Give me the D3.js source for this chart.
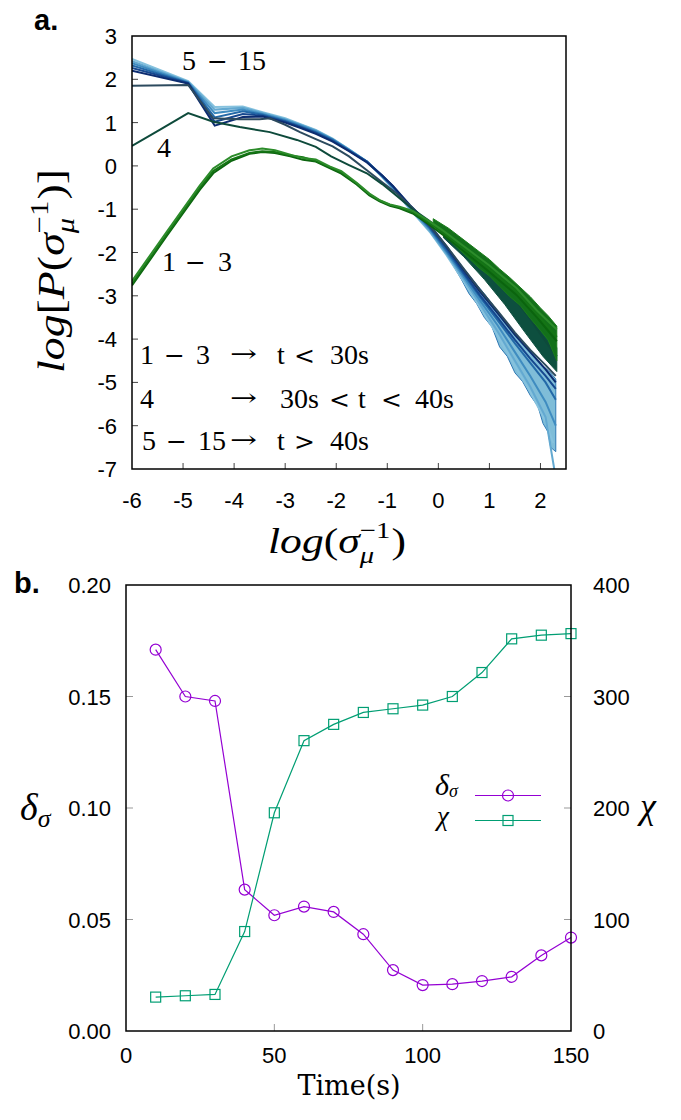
<!DOCTYPE html>
<html><head><meta charset="utf-8">
<script src="https://cdn.jsdelivr.net/npm/d3@7"></script>
<style>body{margin:0;background:#fff}svg{display:block}</style>
</head><body>
<svg id="c" width="681" height="1120"></svg>
<script>
// ---------- Panel a data ----------
const aXTicks = [-6,-5,-4,-3,-2,-1,0,1,2];
const aYTicks = [-7,-6,-5,-4,-3,-2,-1,0,1,2,3];
const green1 = [[-6,-2.66],[-5.32,-1.52],[-4.67,-0.45],[-4.41,-0.06],[-4.05,0.22],[-3.7,0.36],[-3.45,0.40],[-3.2,0.36],[-2.9,0.26],[-2.65,0.18],[-2.4,0.15],[-2.13,-0.01],[-1.9,-0.12],[-1.6,-0.39],[-1.35,-0.64],[-1.15,-0.79],[-0.95,-0.89],[-0.76,-0.94],[-0.5,-1.04],[-0.2,-1.26],[0.1,-1.5],[0.48,-1.84],[1.0,-2.3],[1.53,-2.82],[1.93,-3.34],[2.32,-3.78]];
const green2 = [[-6,-2.72],[-5.32,-1.58],[-4.67,-0.5],[-4.41,-0.12],[-4.05,0.15],[-3.7,0.3],[-3.45,0.34],[-3.2,0.32],[-2.9,0.24],[-2.65,0.2],[-2.4,0.11],[-2.13,-0.03],[-1.9,-0.15],[-1.6,-0.41],[-1.35,-0.66],[-1.15,-0.8],[-0.95,-0.9],[-0.76,-0.96],[-0.5,-1.07],[-0.2,-1.3],[0.1,-1.55],[0.48,-1.9],[1.0,-2.38],[1.53,-2.9],[1.93,-3.42],[2.32,-3.95]];
const green3 = [[-6,-2.76],[-5.32,-1.62],[-4.67,-0.55],[-4.41,-0.17],[-4.05,0.12],[-3.7,0.28],[-3.45,0.32],[-3.2,0.3],[-2.9,0.22],[-2.65,0.14],[-2.4,0.1],[-2.13,-0.05],[-1.9,-0.18],[-1.6,-0.43],[-1.35,-0.68],[-1.15,-0.82],[-0.95,-0.92],[-0.76,-0.98],[-0.5,-1.1],[-0.2,-1.34],[0.1,-1.6],[0.48,-1.95],[1.0,-2.45],[1.53,-2.98],[1.93,-3.5],[2.32,-4.05]];
const greenBand = [[-0.1,-1.22,-1.36],[0.2,-1.44,-1.7],[0.4,-1.62,-1.92],[0.6,-1.8,-2.14],[0.8,-1.98,-2.36],[1.0,-2.16,-2.54],[1.2,-2.38,-2.78],[1.4,-2.58,-3.02],[1.6,-2.8,-3.22],[1.8,-3.02,-3.52],[2.0,-3.28,-3.8],[2.15,-3.46,-4.02],[2.32,-3.7,-4.5]];
const teal4 = [[-6,0.46],[-5.45,0.84],[-4.9,1.22],[-4.41,1.02],[-3.89,0.9],[-3.3,0.78],[-2.77,0.6],[-2.4,0.44],[-2.1,0.22],[-1.75,0.02],[-1.4,-0.17],[-1.1,-0.42],[-0.89,-0.62],[-0.5,-1.0],[-0.2,-1.25],[0.16,-1.57],[0.5,-1.9],[0.81,-2.24],[1.16,-2.62],[1.46,-3.02],[1.75,-3.45],[2.02,-3.92],[2.32,-4.4]];
const tealBand = [[0.1,-1.5,-1.66],[0.5,-1.86,-2.1],[0.9,-2.28,-2.62],[1.3,-2.75,-3.2],[1.7,-3.3,-3.85],[2.05,-3.8,-4.4],[2.32,-4.2,-4.75]];
const blue5 = [[-6,1.85],[-4.9,1.87],[-4.41,1.1],[-3.9,1.08],[-3.5,1.08],[-3.3,1.1],[-3.0,0.95],[-2.71,0.78],[-2.4,0.62],[-2.07,0.45],[-1.75,0.22],[-1.4,-0.1],[-1.1,-0.38],[-0.8,-0.65],[-0.5,-0.98],[-0.17,-1.38],[0.16,-1.85],[0.48,-2.35],[0.81,-2.85],[1.16,-3.35],[1.5,-3.85],[1.8,-4.25],[2.1,-4.6],[2.3,-4.85]];
const blue6 = [[-6,2.2],[-4.9,1.9],[-4.38,0.93],[-3.83,1.13],[-3.44,1.14],[-3.0,1.0],[-2.71,0.88],[-2.4,0.74],[-2.07,0.56],[-1.75,0.34],[-1.4,0.08],[-1.1,-0.22],[-0.89,-0.46],[-0.56,-0.9],[-0.17,-1.36],[0.16,-1.86],[0.48,-2.38],[0.81,-2.9],[1.16,-3.4],[1.5,-3.9],[1.8,-4.3],[2.1,-4.7],[2.3,-5.0]];
const blue7 = [[-6,2.26],[-4.9,1.91],[-4.38,1.02],[-3.83,1.2],[-3.44,1.16],[-3.0,1.02],[-2.71,0.9],[-2.4,0.76],[-2.07,0.58],[-1.75,0.35],[-1.4,0.1],[-1.1,-0.22],[-0.89,-0.47],[-0.56,-0.92],[-0.17,-1.4],[0.16,-1.9],[0.48,-2.44],[0.81,-2.98],[1.16,-3.5],[1.5,-4.02],[1.8,-4.45],[2.1,-4.85],[2.3,-5.15]];
const blue8 = [[-6,2.32],[-4.9,1.92],[-4.38,1.12],[-3.83,1.26],[-3.44,1.18],[-3.0,1.04],[-2.71,0.92],[-2.4,0.78],[-2.07,0.6],[-1.75,0.36],[-1.4,0.1],[-1.1,-0.23],[-0.89,-0.48],[-0.56,-0.94],[-0.17,-1.43],[0.16,-1.95],[0.48,-2.48],[0.81,-3.02],[1.16,-3.56],[1.5,-4.1],[1.8,-4.55],[2.1,-5.0],[2.3,-5.4]];
const blue9 = [[-6,2.37],[-4.9,1.93],[-4.38,1.22],[-3.83,1.3],[-3.44,1.2],[-3.0,1.06],[-2.71,0.94],[-2.4,0.8],[-2.07,0.61],[-1.75,0.37],[-1.4,0.1],[-1.1,-0.24],[-0.89,-0.5],[-0.56,-0.96],[-0.17,-1.46],[0.16,-1.99],[0.48,-2.53],[0.81,-3.1],[1.16,-3.68],[1.5,-4.3],[1.8,-4.85],[2.1,-5.45],[2.3,-6.0]];
const blue10 = [[-6,2.42],[-4.9,1.94],[-4.38,1.3],[-3.83,1.34],[-3.44,1.22],[-3.0,1.08],[-2.71,0.96],[-2.4,0.82],[-2.07,0.62],[-1.75,0.38],[-1.4,0.1],[-1.1,-0.25],[-0.89,-0.52],[-0.56,-0.98],[-0.17,-1.5],[0.16,-2.03],[0.48,-2.58],[0.81,-3.18],[1.16,-3.82],[1.5,-4.5],[1.8,-5.1],[2.1,-5.8],[2.27,-7]];
const blue11 = [[-6,2.47],[-4.9,1.96],[-4.38,1.36],[-3.83,1.37],[-3.44,1.24],[-3.0,1.1],[-2.71,0.97],[-2.4,0.83],[-2.07,0.63],[-1.75,0.38],[-1.4,0.1],[-1.1,-0.26],[-0.89,-0.53],[-0.56,-1.0],[-0.17,-1.52],[0.16,-2.06],[0.48,-2.64],[0.81,-3.26],[1.16,-3.92],[1.5,-4.62],[1.8,-5.22],[2.1,-5.9],[2.25,-6.4]];
const blueBand = [[0.2,-1.95,-2.12],[0.45,-2.3,-2.62],[0.6,-2.52,-2.95],[0.75,-2.74,-3.18],[0.9,-2.95,-3.5],[1.05,-3.18,-3.72],[1.2,-3.42,-4.18],[1.35,-3.65,-4.4],[1.5,-3.88,-4.78],[1.65,-4.08,-4.98],[1.8,-4.28,-5.3],[1.95,-4.48,-5.55],[2.05,-4.62,-5.95],[2.15,-4.72,-6.15],[2.2,-4.78,-6.5],[2.3,-4.92,-6.6]];
const greenColors = ['#2c8c2a','#157515','#0b640e'];
const tealColor = '#0e4a3b';
const blueColors = ['#2c4a5e','#0c2c70','#16488f','#2369a8','#3f8cc0','#63a9d1','#86c2de'];
const annoTop = [[182,'5'],[207,'−'],[238,'15']];
const anno4 = [[157,'4']];
const annoLow = [[162,'1'],[185,'−'],[218,'3']];
const legendRows = [
  [[140,'1'],[164,'−'],[196,'3'],[230,'→'],[277,'t'],[294,'<'],[330,'30s']],
  [[140,'4'],[230,'→'],[280,'30s'],[329,'<'],[358,'t'],[381,'<'],[415,'40s']],
  [[142,'5'],[166,'−'],[198,'15'],[230,'→'],[277,'t'],[294,'>'],[330,'40s']]
];
const legendBaselines = [364, 408, 450];

// ---------- Panel b data ----------
const times = [10,20,30,40,50,60,70,80,90,100,110,120,130,140,150];
const deltaSigma = [0.171,0.150,0.148,0.0634,0.0519,0.0558,0.0534,0.0434,0.0273,0.0206,0.021,0.0224,0.0243,0.0339,0.0419];
const chi = [30.4,31.6,32.8,89.2,195.7,260.4,275,285.7,289,292.3,300,321.5,351.7,355,356.4];
const bXTicks = [0,50,100,150];
const bYLeftTicks = [0,0.05,0.10,0.15,0.20];
const bYRightTicks = [0,100,200,300,400];

const svg = d3.select('#c');
const SANS = "'Liberation Sans', Arial, Helvetica, sans-serif";
const SERIF = "'Liberation Serif', 'Times New Roman', serif";

function mathText(g, parts) {
  const grp = g.append('g');
  let cx = 0, pending = 0;
  parts.forEach(p => {
    const t = grp.append('text').attr('x', cx).attr('y', p.dy || 0)
      .style('font-family', SERIF).style('font-size', p.fs + 'px')
      .style('font-style', p.it ? 'italic' : 'normal').text(p.t);
    const w = t.node().getComputedTextLength();
    if (p.stack) { pending = Math.max(pending, w); }
    else if (p.stackEnd) { cx += Math.max(pending, w) + 1; pending = 0; }
    else { cx += w + (p.kern || 0); }
  });
  return {grp, w: cx};
}
function fitMath(g, parts, target) {
  const m = mathText(g, parts);
  const s = target / m.w;
  m.grp.attr('transform', `scale(${s},1) translate(${-m.w/2},0)`);
}

// ================= Panel a =================
const xA = d3.scaleLinear().domain([-6, 2.5]).range([132, 566]);
const yA = d3.scaleLinear().domain([-7, 3]).range([469, 36]);
const ga = svg.append('g');
const clipA = svg.append('defs').append('clipPath').attr('id','clipA');
clipA.append('rect').attr('x', xA(-6)).attr('y', yA(3)).attr('width', xA(2.5)-xA(-6)).attr('height', yA(-7)-yA(3));
const plotA = ga.append('g').attr('clip-path','url(#clipA)');
const lineA = d3.line().x(d => xA(d[0])).y(d => yA(d[1]));
const areaA = d3.area().x(d => xA(d[0])).y0(d => yA(d[2])).y1(d => yA(d[1]));

plotA.append('path').attr('d', areaA(blueBand)).attr('fill', '#7fbdd8').attr('stroke', '#2f78b4').attr('stroke-width', 1);
[blue11, blue10, blue9, blue8, blue7, blue6].forEach((c, i) => {
  plotA.append('path').attr('d', lineA(c)).attr('fill','none')
    .attr('stroke', blueColors[6 - i]).attr('stroke-width', 2);
});
plotA.append('path').attr('d', lineA(blue5)).attr('fill','none').attr('stroke', blueColors[0]).attr('stroke-width', 2);
plotA.append('path').attr('d', areaA(tealBand)).attr('fill', '#0d4f3f').attr('stroke', '#0d4f3f').attr('stroke-width', 1);
plotA.append('path').attr('d', lineA(teal4)).attr('fill','none').attr('stroke', tealColor).attr('stroke-width', 2);
plotA.append('path').attr('d', areaA(greenBand)).attr('fill', '#13701a').attr('stroke', '#1b7d1b').attr('stroke-width', 1);
[green3, green2, green1].forEach((c, i) => {
  plotA.append('path').attr('d', lineA(c)).attr('fill','none')
    .attr('stroke', greenColors[2 - i]).attr('stroke-width', 2);
});

aXTicks.forEach(v => {
  if (v > -6) ga.append('line').attr('x1', xA(v)).attr('x2', xA(v)).attr('y1', yA(-7)).attr('y2', yA(-7) - 6).attr('stroke', '#444').attr('stroke-width', 1);
  ga.append('text').attr('x', xA(v)).attr('y', 508).attr('text-anchor','middle')
    .style('font-family', SANS).style('font-size','22px').text(v);
});
aYTicks.forEach(v => {
  if (v > -7 && v < 3) ga.append('line').attr('x1', xA(-6)).attr('x2', xA(-6) + 6).attr('y1', yA(v)).attr('y2', yA(v)).attr('stroke', '#444').attr('stroke-width', 1);
  ga.append('text').attr('x', 117).attr('y', yA(v) + 8).attr('text-anchor','end')
    .style('font-family', SANS).style('font-size','22px').text(v);
});
ga.append('rect').attr('x', xA(-6)).attr('y', yA(3)).attr('width', xA(2.5)-xA(-6)).attr('height', yA(-7)-yA(3))
  .attr('fill','none').attr('stroke','#000').attr('stroke-width',1.5);

function pieces(list, y) {
  list.forEach(([x, t]) => {
    if (t === '→') {
      ga.append('text').attr('x', x).attr('y', y - 2).style('font-family', "'DejaVu Serif', serif").style('font-size','24px')
        .attr('textLength', 27).attr('lengthAdjust','spacingAndGlyphs').text(t);
    } else if (t === '−' || t === '<' || t === '>') {
      ga.append('text').attr('x', x).attr('y', y).style('font-family', "'DejaVu Serif', serif").style('font-size','25px').text(t);
    } else {
      ga.append('text').attr('x', x).attr('y', y).style('font-family', SERIF).style('font-size','28px').text(t);
    }
  });
}
pieces(annoTop, 70);
pieces(anno4, 157);
pieces(annoLow, 271);
legendRows.forEach((r, i) => pieces(r, legendBaselines[i]));

const xlabA = ga.append('g').attr('transform', 'translate(337,553)');
fitMath(xlabA, [
  {t:'log', it:true, fs:35}, {t:'(', fs:35}, {t:'σ', it:true, fs:35},
  {t:'−1', fs:23, dy:-15, stack:true}, {t:'μ', it:true, fs:23, dy:10, stackEnd:true}, {t:')', fs:35}
], 138);
const ylabA = ga.append('g').attr('transform', 'translate(64,271) rotate(-90)');
fitMath(ylabA, [
  {t:'log', it:true, fs:39}, {t:'[', fs:39}, {t:'P', it:true, fs:39}, {t:'(', fs:39}, {t:'σ', it:true, fs:39},
  {t:'−1', fs:26, dy:-16, stack:true}, {t:'μ', it:true, fs:26, dy:10, stackEnd:true}, {t:')', fs:39}, {t:']', fs:39}
], 204);

svg.append('text').attr('x', 34).attr('y', 30).style('font-family', SANS).style('font-weight','bold').style('font-size','29px').text('a.');
svg.append('text').attr('x', 14).attr('y', 593).style('font-family', SANS).style('font-weight','bold').style('font-size','29px').text('b.');

// ================= Panel b =================
const xB = d3.scaleLinear().domain([0, 150]).range([126, 571]);
const yBL = d3.scaleLinear().domain([0, 0.2]).range([1031, 585]);
const yBR = d3.scaleLinear().domain([0, 400]).range([1031, 585]);
const gb = svg.append('g');
const purple = '#9400d3', green = '#009e73';

bYLeftTicks.forEach(v => {
  if (v > 0 && v < 0.2) {
    gb.append('line').attr('x1', xB(0)).attr('x2', xB(0) + 7).attr('y1', yBL(v)).attr('y2', yBL(v)).attr('stroke','#999');
  }
  gb.append('text').attr('x', 111).attr('y', yBL(v) + 8).attr('text-anchor','end')
    .style('font-family', SANS).style('font-size','22px').text(v.toFixed(2));
});
bYRightTicks.forEach(v => {
  if (v > 0 && v < 400) {
    gb.append('line').attr('x1', xB(150)).attr('x2', xB(150) - 7).attr('y1', yBR(v)).attr('y2', yBR(v)).attr('stroke','#999');
  }
  gb.append('text').attr('x', 593).attr('y', yBR(v) + 8).attr('text-anchor','start')
    .style('font-family', SANS).style('font-size','22px').text(v);
});
bXTicks.forEach(v => {
  if (v > 0 && v < 150) {
    gb.append('line').attr('x1', xB(v)).attr('x2', xB(v)).attr('y1', yBL(0)).attr('y2', yBL(0) - 7).attr('stroke','#999');
  }
  gb.append('text').attr('x', xB(v)).attr('y', 1063).attr('text-anchor','middle')
    .style('font-family', SANS).style('font-size','22px').text(v);
});

const dsData = times.map((t, i) => [t, deltaSigma[i]]);
const chiData = times.map((t, i) => [t, chi[i]]);
gb.append('path').attr('d', d3.line().x(d => xB(d[0])).y(d => yBL(d[1]))(dsData)).attr('fill','none').attr('stroke', purple).attr('stroke-width', 1.2);
gb.append('path').attr('d', d3.line().x(d => xB(d[0])).y(d => yBR(d[1]))(chiData)).attr('fill','none').attr('stroke', green).attr('stroke-width', 1.2);
gb.selectAll('circle.ds').data(dsData).enter().append('circle')
  .attr('cx', d => xB(d[0])).attr('cy', d => yBL(d[1])).attr('r', 5.5)
  .attr('fill','none').attr('stroke', purple).attr('stroke-width', 1.2);
gb.selectAll('rect.chi').data(chiData).enter().append('rect')
  .attr('x', d => xB(d[0]) - 5).attr('y', d => yBR(d[1]) - 5).attr('width', 10).attr('height', 10)
  .attr('fill','none').attr('stroke', green).attr('stroke-width', 1.2);

gb.append('rect').attr('x', xB(0)).attr('y', yBL(0.2)).attr('width', xB(150)-xB(0)).attr('height', yBL(0)-yBL(0.2))
  .attr('fill','none').attr('stroke','#000').attr('stroke-width',1.5);

gb.append('line').attr('x1', 475).attr('x2', 541).attr('y1', 795.5).attr('y2', 795.5).attr('stroke', purple).attr('stroke-width',1.2);
gb.append('circle').attr('cx', 508).attr('cy', 795.5).attr('r', 5.5).attr('fill','none').attr('stroke', purple).attr('stroke-width',1.2);
gb.append('line').attr('x1', 475).attr('x2', 541).attr('y1', 820.5).attr('y2', 820.5).attr('stroke', green).attr('stroke-width',1.2);
gb.append('rect').attr('x', 503).attr('y', 815.5).attr('width', 10).attr('height', 10).attr('fill','none').attr('stroke', green).attr('stroke-width',1.2);
const legD = gb.append('g').attr('transform','translate(435,795)');
mathText(legD, [{t:'δ', it:true, fs:30}, {t:'σ', it:true, fs:18, dy:2}]);
gb.append('text').attr('x', 437).attr('y', 825).style('font-family', SERIF).style('font-style','italic').style('font-size','27px').text('χ');

const ylabB = gb.append('g').attr('transform','translate(20,820)');
mathText(ylabB, [{t:'δ', it:true, fs:38}, {t:'σ', it:true, fs:26, dy:7}]);
gb.append('text').attr('x', 640).attr('y', 818).style('font-family', SERIF).style('font-style','italic').style('font-size','36px').text('χ');
gb.append('text').attr('x', 349).attr('y', 1095).attr('text-anchor','middle').style('font-family', "'DejaVu Serif', serif").style('font-size','27px').text('Time(s)');
</script>
</body></html>
